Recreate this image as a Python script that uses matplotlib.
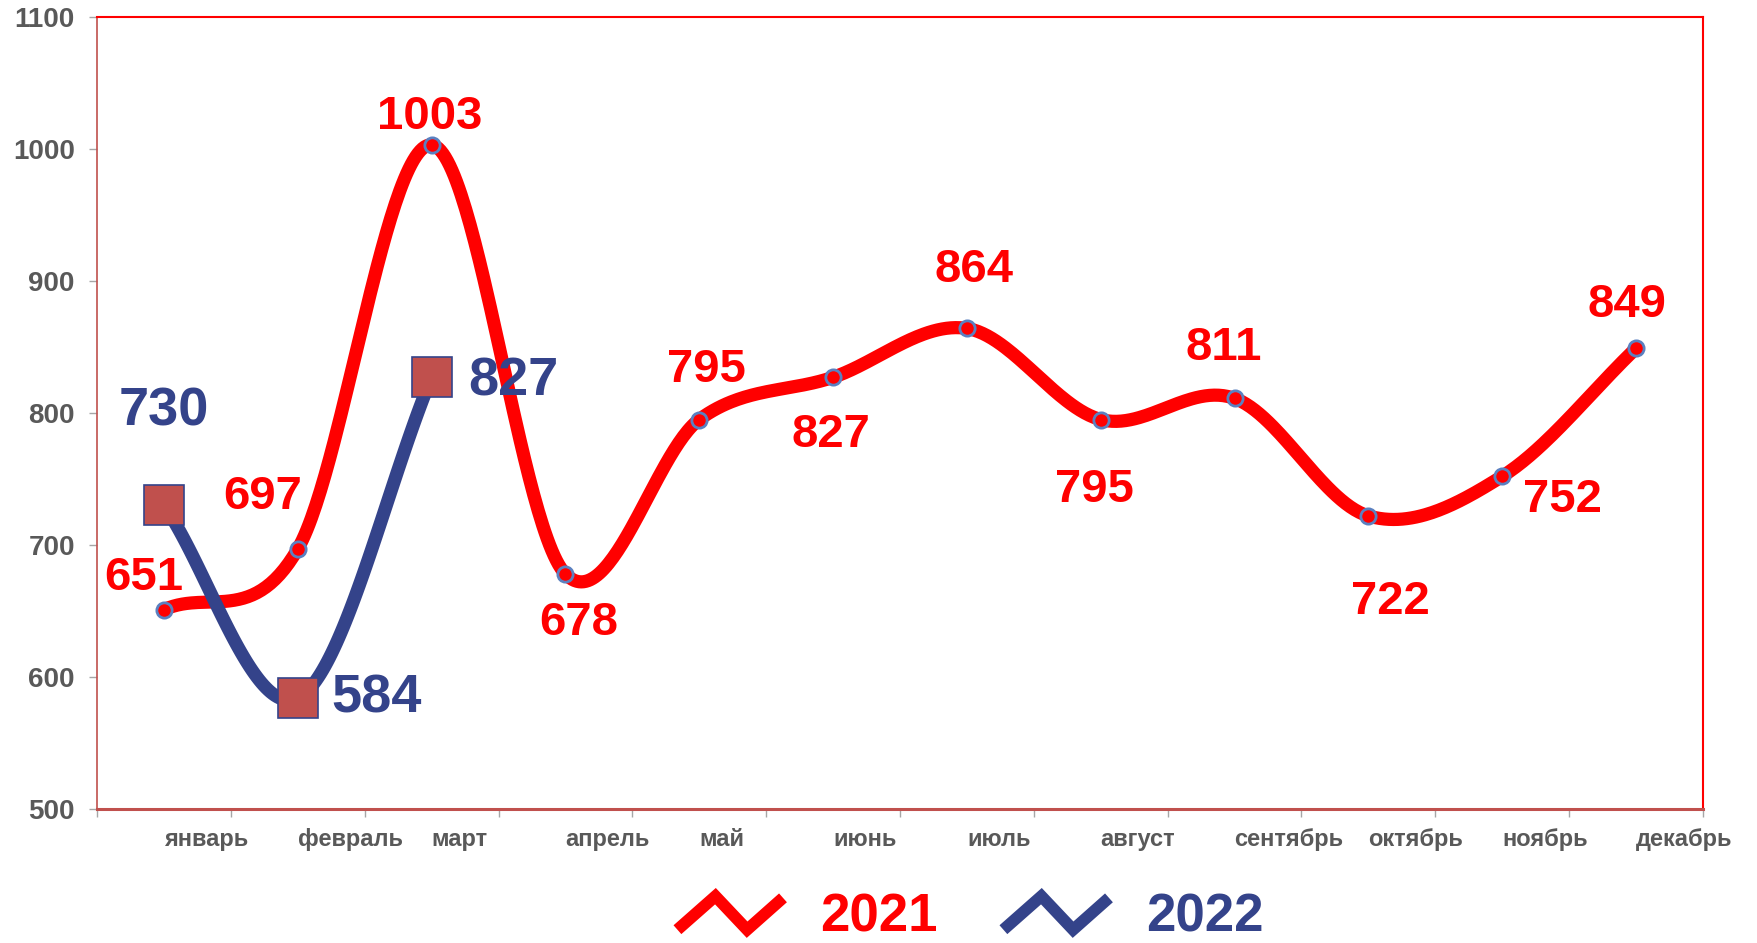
import numpy as np
import matplotlib.pyplot as plt
from matplotlib.lines import Line2D
from matplotlib.legend_handler import HandlerBase

plt.rcParams['font.family'] = ['Liberation Sans', 'DejaVu Sans']

# ------------------------------------------------------------------ #
#  data                                                               #
# ------------------------------------------------------------------ #
months = ["январь", "февраль", "март", "апрель", "май", "июнь",
          "июль", "август", "сентябрь", "октябрь", "ноябрь", "декабрь"]
values_2021 = [651, 697, 1003, 678, 795, 827, 864, 795, 811, 722, 752, 849]
values_2022 = [730, 584, 827]
series_names = ["2021", "2022"]

# label offsets in pixels (dx, dy), dy > 0 means downwards in the picture
offsets_2021 = [(-20, -32), (-35, -52), (-2, -28), (13, 49), (7, -50), (-2, 58),
                (7, -58), (-6, 70), (-11, -50), (22, 86), (60, 24), (-9, -43)]
offsets_2022 = [(0, -94), (79, 0), (82, 4)]

RED = "#ff0000"
BLUE = "#34438a"
GREY = "#595959"


def smooth(xs, ys, n=60):
    """Excel-like smoothed line: cubic Bezier with tangents (P[i+1]-P[i-1])/6."""
    p = np.column_stack([xs, ys]).astype(float)
    # reflected end points so the curve leaves the ends heading to the neighbour
    ext = np.vstack([2 * p[0] - p[1], p, 2 * p[-1] - p[-2]])
    t = np.linspace(0, 1, n)[:, None]
    out = []
    for i in range(len(p) - 1):
        p0, p1, p2, p3 = ext[i], ext[i + 1], ext[i + 2], ext[i + 3]
        c1 = p1 + (p2 - p0) / 6
        c2 = p2 - (p3 - p1) / 6
        seg = (1 - t) ** 3 * p1 + 3 * (1 - t) ** 2 * t * c1 + 3 * (1 - t) * t ** 2 * c2 + t ** 3 * p2
        out.append(seg if i == 0 else seg[1:])
    pts = np.vstack(out)
    return pts[:, 0], pts[:, 1]


class ZigZagHandler(HandlerBase):
    def create_artists(self, legend, orig, xdescent, ydescent, width, height, fontsize, trans):
        xs = np.array([0.0, 0.36, 0.66, 1.0]) * width - xdescent
        ys = np.array([0.0, 1.0, 0.0, 0.95]) * height - ydescent
        ln = Line2D(xs, ys, color=orig.get_color(), lw=orig.get_linewidth(),
                    solid_joinstyle="miter", solid_capstyle="butt")
        ln.set_transform(trans)
        return [ln]


fig = plt.figure(figsize=(17.58, 9.43), dpi=100)
ax = fig.add_axes([0.0552, 0.1421, 0.9135, 0.8400])

x21 = np.arange(len(values_2021))
x22 = np.arange(len(values_2022))

sx, sy = smooth(x21, values_2021)
ax.plot(sx, sy, color=RED, lw=9.5, solid_capstyle="round", zorder=3)
ax.plot(x21, values_2021, ls="none", marker="o", ms=11, mfc=RED, mec="#5b80c0", mew=2, zorder=4)

bx, by = smooth(x22, values_2022)
ax.plot(bx, by, color=BLUE, lw=9.5, solid_capstyle="round", zorder=5)
ax.plot(x22, values_2022, ls="none", marker="s", ms=29, mfc="#c0504d", mec=BLUE, mew=1.2, zorder=6)

for x, v, (dx, dy) in zip(x21, values_2021, offsets_2021):
    ax.annotate(str(v), (x, v), xytext=(dx, -dy), textcoords="offset pixels",
                ha="center", va="center", fontsize=34, fontweight="bold", color=RED, zorder=7)
for x, v, (dx, dy) in zip(x22, values_2022, offsets_2022):
    ax.annotate(str(v), (x, v), xytext=(dx, -dy), textcoords="offset pixels",
                ha="center", va="center", fontsize=39, fontweight="bold", color=BLUE, zorder=8)

# axes
ax.set_xlim(-0.5, len(months) - 0.5)
ax.set_ylim(500, 1100)
ax.set_yticks(np.arange(500, 1101, 100))
ax.set_xticks(x21)
ax.set_xticklabels(months, ha="left")
ax.set_xticks(np.arange(-0.5, len(months), 1), minor=True)
ax.tick_params(axis="x", which="major", length=0, pad=14, labelsize=17, labelcolor=GREY)
ax.tick_params(axis="x", which="minor", length=6, width=1, color="#a6a6a6")
ax.tick_params(axis="y", length=6, width=1, color="#a6a6a6", pad=10, labelsize=20, labelcolor=GREY)
for lab in ax.get_xticklabels() + ax.get_yticklabels():
    lab.set_fontweight("bold")

for side in ("top", "right"):
    ax.spines[side].set_color(RED)
    ax.spines[side].set_linewidth(1.5)
ax.spines["left"].set_color("#c0504d")
ax.spines["left"].set_linewidth(1.2)
ax.spines["bottom"].set_color("#c0504d")
ax.spines["bottom"].set_linewidth(2.2)

handles = [Line2D([], [], color=RED, lw=8.5), Line2D([], [], color=BLUE, lw=8.5)]
leg = fig.legend(handles, series_names, loc="center", bbox_to_anchor=(0.552, 0.027),
                 ncol=2, frameon=False, borderpad=0, handlelength=2.0, handleheight=0.6,
                 handletextpad=0.7, columnspacing=1.25,
                 handler_map={Line2D: ZigZagHandler()},
                 prop={"size": 38, "weight": "bold"})
for txt, c in zip(leg.get_texts(), (RED, BLUE)):
    txt.set_color(c)

fig.savefig("out.png", dpi=100)
